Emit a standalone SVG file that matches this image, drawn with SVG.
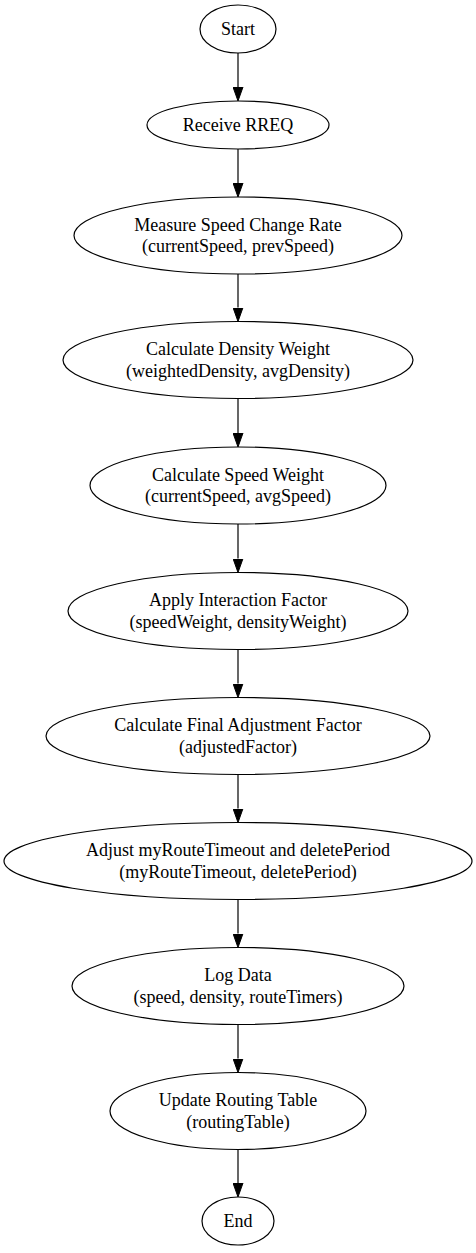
<svg xmlns="http://www.w3.org/2000/svg" width="476" height="1253" viewBox="0 0 476 1253">
<style>
.node ellipse{fill:none;stroke:#000;stroke-width:1.2}
.node text{font-family:"Liberation Serif","Times New Roman",serif;font-size:18px;fill:#000;text-anchor:middle}
.edge line{stroke:#000;stroke-width:1.2}
</style>
<defs>
<marker id="arr" viewBox="0 0 14 11" refX="0" refY="5.5" markerWidth="14" markerHeight="11" markerUnits="userSpaceOnUse" orient="auto">
<path d="M0,0.5 L14,5.5 L0,10.5 Z" fill="#000" stroke="#000" stroke-width="1"/>
</marker>
</defs>
<rect width="476" height="1253" fill="#fff"/>
<g id="connectors" class="edge">
<line x1="238" y1="53" x2="238" y2="87" marker-end="url(#arr)"/>
<line x1="238" y1="149" x2="238" y2="183" marker-end="url(#arr)"/>
<line x1="238" y1="274" x2="238" y2="307.5" marker-end="url(#arr)"/>
<line x1="238" y1="398.5" x2="238" y2="433" marker-end="url(#arr)"/>
<line x1="238" y1="524" x2="238" y2="558.5" marker-end="url(#arr)"/>
<line x1="238" y1="649.5" x2="238" y2="683.5" marker-end="url(#arr)"/>
<line x1="238" y1="774.5" x2="238" y2="808.5" marker-end="url(#arr)"/>
<line x1="238" y1="899.5" x2="238" y2="933.5" marker-end="url(#arr)"/>
<line x1="238" y1="1024.5" x2="238" y2="1058.5" marker-end="url(#arr)"/>
<line x1="238" y1="1149.5" x2="238" y2="1183" marker-end="url(#arr)"/>
</g>
<g id="start" class="node">
<ellipse cx="238" cy="29" rx="38" ry="24"/>
<text x="238" y="35">Start</text>
</g>
<g id="receive_rreq" class="node">
<ellipse cx="238" cy="125" rx="91" ry="24"/>
<text x="238" y="131">Receive RREQ</text>
</g>
<g id="measure_speed" class="node">
<ellipse cx="238" cy="235.5" rx="164" ry="38.5"/>
<text x="238" y="230.5">Measure Speed Change Rate</text>
<text x="238" y="252">(currentSpeed, prevSpeed)</text>
</g>
<g id="density_weight" class="node">
<ellipse cx="238" cy="360" rx="175" ry="38.5"/>
<text x="238" y="355">Calculate Density Weight</text>
<text x="238" y="376.5">(weightedDensity, avgDensity)</text>
</g>
<g id="speed_weight" class="node">
<ellipse cx="238" cy="485.5" rx="148" ry="38.5"/>
<text x="238" y="480.5">Calculate Speed Weight</text>
<text x="238" y="502">(currentSpeed, avgSpeed)</text>
</g>
<g id="interaction" class="node">
<ellipse cx="238" cy="611" rx="170" ry="38.5"/>
<text x="238" y="606">Apply Interaction Factor</text>
<text x="238" y="627.5">(speedWeight, densityWeight)</text>
</g>
<g id="final_factor" class="node">
<ellipse cx="238" cy="736" rx="192" ry="38.5"/>
<text x="238" y="731">Calculate Final Adjustment Factor</text>
<text x="238" y="752.5">(adjustedFactor)</text>
</g>
<g id="adjust_timers" class="node">
<ellipse cx="238" cy="861" rx="234" ry="38.5"/>
<text x="238" y="856">Adjust myRouteTimeout and deletePeriod</text>
<text x="238" y="877.5">(myRouteTimeout, deletePeriod)</text>
</g>
<g id="log_data" class="node">
<ellipse cx="238" cy="986" rx="166" ry="38.5"/>
<text x="238" y="981">Log Data</text>
<text x="238" y="1002.5">(speed, density, routeTimers)</text>
</g>
<g id="update_table" class="node">
<ellipse cx="238" cy="1111" rx="128" ry="38.5"/>
<text x="238" y="1106">Update Routing Table</text>
<text x="238" y="1127.5">(routingTable)</text>
</g>
<g id="end" class="node">
<ellipse cx="238" cy="1221" rx="36" ry="24"/>
<text x="238" y="1227">End</text>
</g>
</svg>
